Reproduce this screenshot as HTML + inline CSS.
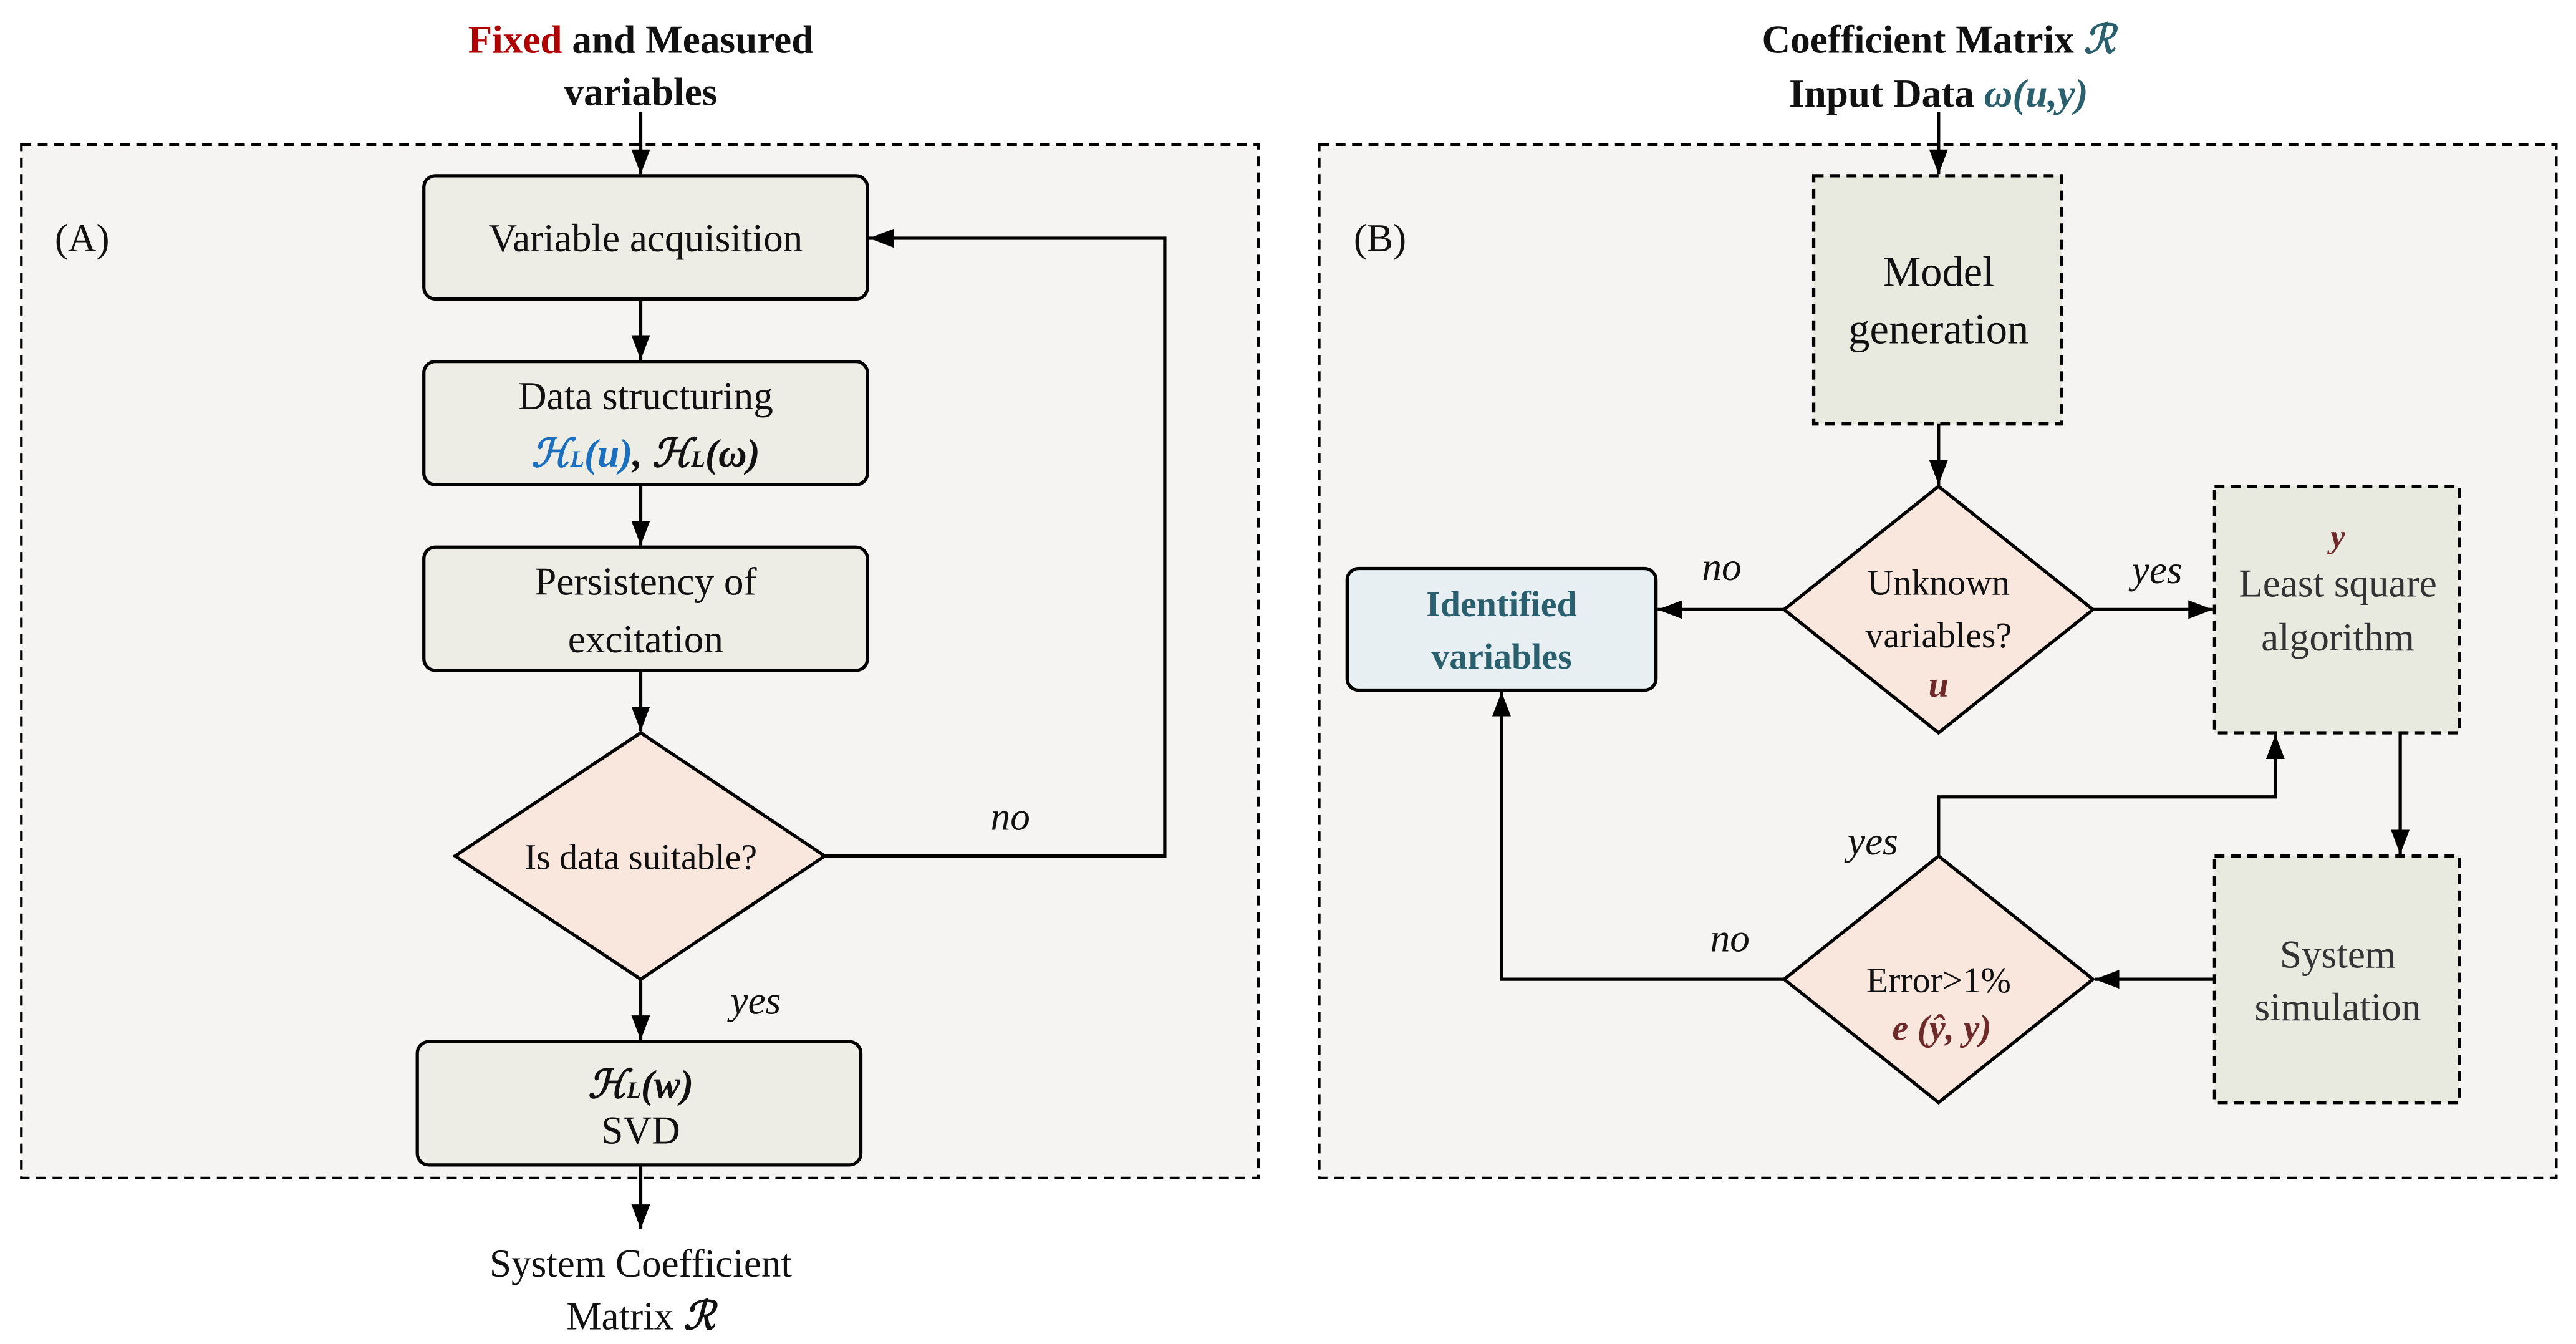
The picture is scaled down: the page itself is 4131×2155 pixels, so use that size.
<!DOCTYPE html>
<html><head><meta charset="utf-8"><style>
html,body{margin:0;padding:0;background:#fff;}
svg{display:block;}
text{font-family:"Liberation Serif",serif;}
</style></head><body>
<svg width="4131" height="2155" viewBox="0 0 1568 818" preserveAspectRatio="none" xmlns="http://www.w3.org/2000/svg">
<defs>
<marker id="a" viewBox="0 0 10 10" refX="10" refY="5" markerWidth="15" markerHeight="15" orient="auto" markerUnits="userSpaceOnUse"><path d="M0,1.2 L10,5 L0,8.8 z" fill="#000"/></marker>
</defs>
<g stroke="#000" stroke-width="1.6" fill="none">
<rect x="13" y="88" width="753" height="629" fill="#f5f4f2" stroke-dasharray="6,4"/>
<rect x="803" y="88" width="753" height="629" fill="#f5f4f2" stroke-dasharray="6,4"/>
</g>
<g stroke="#000" stroke-width="2" fill="none">
<rect x="258" y="107" width="270" height="75" rx="7" fill="#edede6"/>
<rect x="258" y="220" width="270" height="75" rx="7" fill="#edede6"/>
<rect x="258" y="333" width="270" height="75" rx="7" fill="#edede6"/>
<polygon points="390,446 502,521 390,596 277,521" fill="#f9e6dd"/>
<rect x="254" y="634" width="270" height="75" rx="7" fill="#edede6"/>
<line x1="390" y1="68" x2="390" y2="106" marker-end="url(#a)"/>
<line x1="390" y1="182" x2="390" y2="219" marker-end="url(#a)"/>
<line x1="390" y1="295" x2="390" y2="332" marker-end="url(#a)"/>
<line x1="390" y1="408" x2="390" y2="445" marker-end="url(#a)"/>
<line x1="390" y1="596" x2="390" y2="633" marker-end="url(#a)"/>
<line x1="390" y1="709" x2="390" y2="748" marker-end="url(#a)"/>
<polyline points="502,521 709,521 709,145 529,145" marker-end="url(#a)"/>
<rect x="1104" y="107" width="151" height="151" fill="#e8e9df" stroke-dasharray="6,4"/>
<polygon points="1180,296 1274,371 1180,446 1086,371" fill="#f9e6dd"/>
<rect x="820" y="346" width="188" height="74" rx="7" fill="#e8eff2"/>
<rect x="1348" y="296" width="149" height="150" fill="#e8e9df" stroke-dasharray="6,4"/>
<rect x="1348" y="521" width="149" height="150" fill="#e8e9df" stroke-dasharray="6,4"/>
<polygon points="1180,521 1274,596 1180,671 1086,596" fill="#f9e6dd"/>
<line x1="1180" y1="68" x2="1180" y2="106" marker-end="url(#a)"/>
<line x1="1180" y1="258" x2="1180" y2="295" marker-end="url(#a)"/>
<line x1="1086" y1="371" x2="1009" y2="371" marker-end="url(#a)"/>
<line x1="1274" y1="371" x2="1347" y2="371" marker-end="url(#a)"/>
<line x1="1461" y1="446" x2="1461" y2="520" marker-end="url(#a)"/>
<line x1="1348" y1="596" x2="1275" y2="596" marker-end="url(#a)"/>
<polyline points="1180,521 1180,485 1385,485 1385,447" marker-end="url(#a)"/>
<polyline points="1086,596 914,596 914,421" marker-end="url(#a)"/>
</g>
<g text-anchor="middle" font-size="24" fill="#111">
<text x="390" y="32" font-weight="bold"><tspan fill="#b00000">Fixed</tspan> and Measured</text>
<text x="390" y="64" font-weight="bold">variables</text>
<text x="50" y="153">(A)</text>
<text x="840" y="153">(B)</text>
<text x="393" y="153">Variable acquisition</text>
<text x="393" y="249">Data structuring</text>
<text x="393" y="284" font-weight="bold" font-style="italic"><tspan fill="#1a6fbf">ℋ<tspan font-size="14">L</tspan>(u)</tspan>, ℋ<tspan font-size="14">L</tspan>(ω)</text>
<text x="393" y="362">Persistency of</text>
<text x="393" y="397">excitation</text>
<text x="390" y="529" font-size="22">Is data suitable?</text>
<text x="615" y="505" font-style="italic">no</text>
<text x="460" y="617" font-style="italic">yes</text>
<text x="390" y="668" font-weight="bold" font-style="italic">ℋ<tspan font-size="14">L</tspan>(w)</text>
<text x="390" y="696">SVD</text>
<text x="390" y="777">System Coefficient</text>
<text x="390" y="809">Matrix <tspan font-weight="bold" font-style="italic">ℛ</tspan></text>

<text x="1180" y="32" font-weight="bold">Coefficient Matrix <tspan fill="#2a5f6e" font-style="italic">ℛ</tspan></text>
<text x="1180" y="65" font-weight="bold">Input Data <tspan fill="#2a5f6e" font-style="italic">ω(u,y)</tspan></text>
<text x="1180" y="174" font-size="26">Model</text>
<text x="1180" y="209" font-size="26">generation</text>
<text x="1180" y="362" font-size="22">Unknown</text>
<text x="1180" y="394" font-size="22">variables?</text>
<text x="1180" y="424" font-size="22" font-weight="bold" font-style="italic" fill="#6e2a2a">u</text>
<text x="1048" y="353" font-style="italic">no</text>
<text x="1313" y="355" font-style="italic">yes</text>
<text x="914" y="375" font-size="22" font-weight="bold" fill="#2a5f6e">Identified</text>
<text x="914" y="407" font-size="22" font-weight="bold" fill="#2a5f6e">variables</text>
<text x="1423" y="333" font-size="20" font-weight="bold" font-style="italic" fill="#6e2a2a">y</text>
<text x="1423" y="363" fill="#333">Least square</text>
<text x="1423" y="396" fill="#333">algorithm</text>
<text x="1423" y="589" fill="#333">System</text>
<text x="1423" y="621" fill="#333">simulation</text>
<text x="1180" y="604" font-size="22">Error&gt;1%</text>
<text x="1182" y="633" font-size="22" font-weight="bold" font-style="italic" fill="#6e2a2a">e (ŷ, y)</text>
<text x="1140" y="520" font-style="italic">yes</text>
<text x="1053" y="579" font-style="italic">no</text>
</g>
</svg>
</body></html>
